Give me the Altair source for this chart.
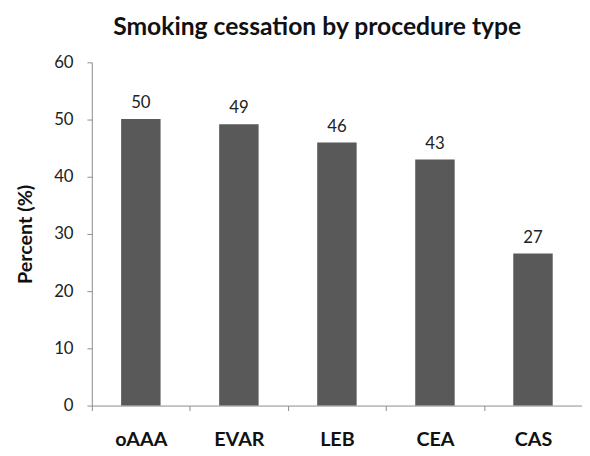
import altair as alt
import pandas as pd

procedures = ["oAAA", "EVAR", "LEB", "CEA", "CAS"]
percent = [50.1, 49.2, 46.0, 43.0, 26.6]
labels = ["50", "49", "46", "43", "27"]

df = pd.DataFrame({"procedure": procedures, "percent": percent, "label": labels})

FONT = "Lato"
AXIS_GRAY = "#8c8c8c"

base = alt.Chart(df)

x_enc = alt.X(
    "procedure:N",
    sort=procedures,
    scale=alt.Scale(paddingInner=0, paddingOuter=0),
    axis=alt.Axis(
        title=None,
        labelAngle=0,
        labelFont=FONT,
        labelFontSize=20,
        labelFontWeight="bold",
        labelColor="#111111",
        labelPadding=19,
        tickBand="extent",
        tickSize=5,
        tickColor=AXIS_GRAY,
        domainColor=AXIS_GRAY,
        grid=False,
    ),
)

bars = base.mark_bar(color="#595959", size=40).encode(
    x=x_enc,
    y=alt.Y(
        "percent:Q",
        scale=alt.Scale(domain=[0, 60], nice=False),
        axis=alt.Axis(
            title="Percent (%)",
            titleFont=FONT,
            titleFontSize=20,
            titleFontWeight="bold",
            titleColor="#111111",
            titlePadding=18,
            values=[0, 10, 20, 30, 40, 50, 60],
            labelFont=FONT,
            labelFontSize=17,
            labelColor="#222222",
            labelPadding=14,
            tickSize=5,
            tickColor=AXIS_GRAY,
            domainColor=AXIS_GRAY,
            grid=False,
        ),
    ),
)

text = base.mark_text(
    font=FONT, fontSize=17, color="#222222", baseline="alphabetic", dy=-11
).encode(
    x=alt.X("procedure:N", sort=procedures),
    y=alt.Y("percent:Q"),
    text="label:N",
)

chart = (
    alt.layer(bars, text)
    .properties(
        width=497,
        height=348,
        padding={"left": 85, "top": 52, "right": 0, "bottom": 46},
        autosize=alt.AutoSizeParams(type="none"),
        title=alt.TitleParams(
            "Smoking cessation by procedure type",
            font=FONT,
            fontSize=25,
            fontWeight="bold",
            color="#111111",
            anchor="middle",
            dx=-20,
            offset=14,
        ),
    )
    .configure_view(stroke=None)
)

chart.save("out.html", embed_options={"renderer": "svg", "actions": False})
